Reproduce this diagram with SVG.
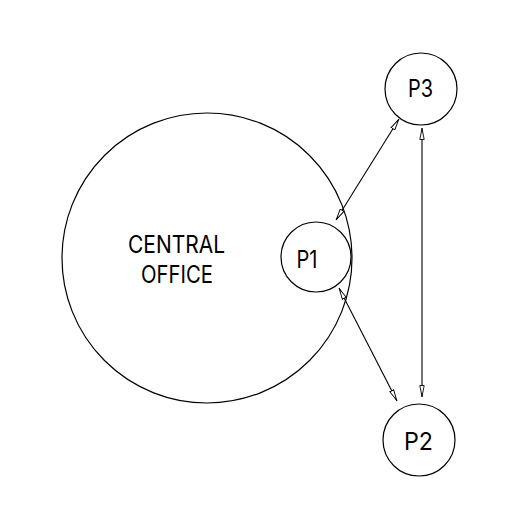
<svg xmlns="http://www.w3.org/2000/svg" width="512" height="512" viewBox="0 0 512 512">
<style>
.n{fill:#fff;stroke:#000;stroke-width:1.2}
.t{font-family:Inter,Lato,sans-serif;font-size:24.5px;fill:#000;text-anchor:middle}
.c{stroke:#000;stroke-width:1.1;fill:none;marker-start:url(#a);marker-end:url(#a)}
</style>
<defs>
<marker id="a" viewBox="0 0 12 6" refX="12" refY="3" markerWidth="12" markerHeight="6" markerUnits="userSpaceOnUse" orient="auto-start-reverse">
<path d="M0.5,0.8 L11.5,3 L0.5,5.2 Z" fill="#fff" stroke="#000" stroke-width="0.9"/>
</marker>
</defs>
<rect width="512" height="512" fill="#fff"/>
<g id="central-office">
<circle class="n" cx="207" cy="258" r="145" style="fill:none"/>
<text class="t" x="176.5" y="253" textLength="97" lengthAdjust="spacingAndGlyphs">CENTRAL</text>
<text class="t" x="177" y="283" textLength="72" lengthAdjust="spacingAndGlyphs">OFFICE</text>
</g>
<g id="p1">
<circle class="n" cx="316" cy="257" r="35"/>
<text class="t" x="307" y="268" textLength="21" lengthAdjust="spacingAndGlyphs">P1</text>
</g>
<g id="p3">
<circle class="n" cx="421" cy="89" r="36"/>
<text class="t" x="420.5" y="97" textLength="25" lengthAdjust="spacingAndGlyphs">P3</text>
</g>
<g id="p2">
<circle class="n" cx="419" cy="440" r="36"/>
<text class="t" x="418.5" y="450" textLength="29" lengthAdjust="spacingAndGlyphs">P2</text>
</g>
<g id="connectors">
<line class="c" x1="336" y1="220" x2="399" y2="119"/>
<line class="c" x1="422" y1="128" x2="422" y2="397"/>
<line class="c" x1="339" y1="288" x2="397" y2="401"/>
</g>
</svg>
